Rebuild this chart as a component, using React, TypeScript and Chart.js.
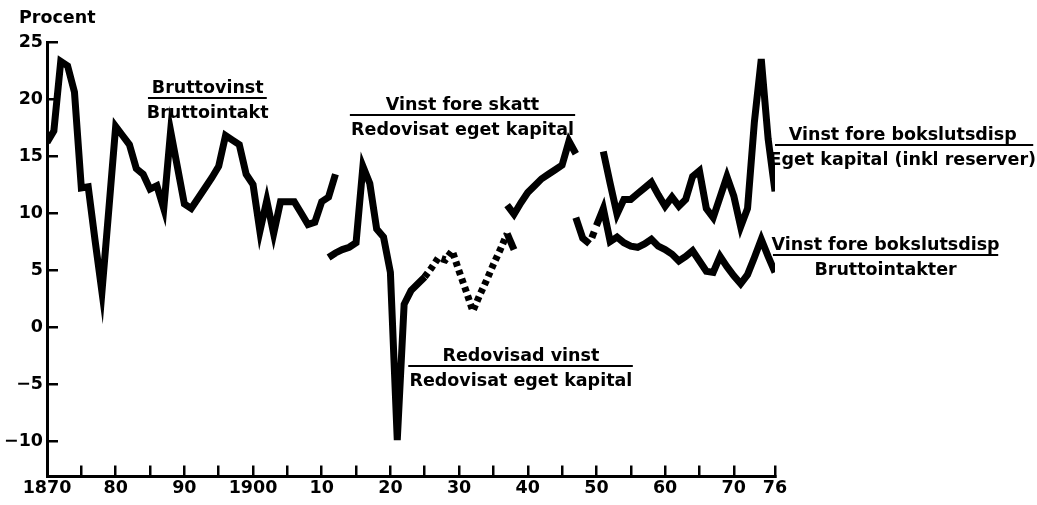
import React, { useEffect, useRef } from 'react';
import { Chart, registerables } from 'chart.js';

Chart.register(...registerables);

// ---------- data ----------
const bruttoYears = [1870, 1871, 1872, 1873, 1874, 1875, 1876, 1877, 1878, 1879, 1880, 1881, 1882, 1883, 1884, 1885, 1886, 1887, 1888, 1889, 1890, 1891, 1892, 1893, 1894, 1895, 1896, 1897, 1898, 1899, 1900, 1901, 1902, 1903, 1904, 1905, 1906, 1907, 1908, 1909, 1910, 1911, 1912];
const bruttoValues = [16.2, 17.2, 23.3, 22.9, 20.6, 12.2, 12.3, 7.6, 3.1, 10.3, 17.6, 16.8, 16.0, 13.9, 13.4, 12.1, 12.4, 10.4, 17.2, 14.0, 10.8, 10.4, 11.3, 12.2, 13.1, 14.1, 16.8, 16.4, 16.0, 13.4, 12.5, 8.4, 11.1, 8.2, 11.0, 11.0, 11.0, 10.0, 9.0, 9.2, 11.0, 11.4, 13.4];

const redovisadYears = [1911, 1912, 1913, 1914, 1915, 1916, 1917, 1918, 1919, 1920, 1921, 1922, 1923, 1924, 1925, 1926, 1927, 1928, 1929, 1930, 1931, 1932, 1933, 1934, 1935, 1936, 1937, 1938];
const redovisadValues = [6.1, 6.5, 6.8, 7.0, 7.4, 14.1, 12.6, 8.6, 7.9, 4.8, -9.9, 2.0, 3.2, 3.8, 4.4, 5.2, 6.1, 5.9, 6.7, 4.9, 3.2, 1.4, 2.8, 4.1, 5.5, 6.8, 8.2, 6.8];
const redovisadDottedFrom = 1925;
const redovisadDottedTo = 1937;

const skattYears = [1937, 1938, 1939, 1940, 1941, 1942, 1943, 1944, 1945, 1946, 1947];
const skattValues = [10.7, 9.9, 10.9, 11.8, 12.4, 13.0, 13.4, 13.8, 14.2, 16.3, 15.2];

const egetYears = [1951, 1952, 1953, 1954, 1955, 1956, 1957, 1958, 1959, 1960, 1961, 1962, 1963, 1964, 1965, 1966, 1967, 1968, 1969, 1970, 1971, 1972, 1973, 1974, 1975, 1976];
const egetValues = [15.4, 12.6, 9.9, 11.2, 11.2, 11.7, 12.2, 12.7, 11.6, 10.6, 11.4, 10.6, 11.2, 13.2, 13.7, 10.4, 9.6, 11.4, 13.2, 11.5, 8.8, 10.4, 18.0, 23.5, 16.5, 11.9];

const intakterYears = [1947, 1948, 1949, 1950, 1951, 1952, 1953, 1954, 1955, 1956, 1957, 1958, 1959, 1960, 1961, 1962, 1963, 1964, 1965, 1966, 1967, 1968, 1969, 1970, 1971, 1972, 1973, 1974, 1975, 1976];
const intakterValues = [9.6, 7.8, 7.3, 8.9, 10.4, 7.5, 7.9, 7.4, 7.1, 7.0, 7.3, 7.7, 7.1, 6.8, 6.4, 5.8, 6.2, 6.7, 5.8, 4.9, 4.8, 6.2, 5.3, 4.5, 3.8, 4.6, 6.1, 7.7, 6.2, 4.8];
const intakterDottedFrom = 1949;

const xTickYears = [1870, 1875, 1880, 1885, 1890, 1895, 1900, 1905, 1910, 1915, 1920, 1925, 1930, 1935, 1940, 1945, 1950, 1955, 1960, 1965, 1970, 1976];
const xLabelYears = [1870, 1880, 1890, 1900, 1910, 1920, 1930, 1940, 1950, 1960, 1970, 1976];
const xLabelTexts = ['1870', '80', '90', '1900', '10', '20', '30', '40', '50', '60', '70', '76'];
const yTickValues = [25, 20, 15, 10, 5, 0, -5, -10];

const unitLabel = 'Procent';

// fraction labels (anchored in data units: centre year, line value, line start/end years)
const fractionNumerators = ['Bruttovinst', 'Vinst fore skatt', 'Redovisad vinst', 'Vinst fore bokslutsdisp', 'Vinst fore bokslutsdisp'];
const fractionDenominators = ['Bruttointakt', 'Redovisat eget kapital', 'Redovisat eget kapital', 'Eget kapital (inkl reserver)', 'Bruttointakter'];
const fractionCenters = [1893.4, 1930.5, 1939.0, 1994.6, 1992.1];
const fractionLineValues = [20.1, 18.6, -3.4, 15.95, 6.3];
const fractionFrom = [1884.7, 1914.1, 1922.6, 1976.0, 1975.7];
const fractionTo = [1902.0, 1946.9, 1955.3, 2013.6, 2008.5];

// ---------- style ----------
const FONT_FAMILY = '"DejaVu Sans", "Liberation Sans", Arial, sans-serif';
const FONT_SIZE = 17.5;
const INK = '#000000';

const toPoints = (xs: number[], ys: number[]) => xs.map((x, i) => ({ x, y: ys[i] }));

const fractionPlugin = {
  id: 'fractionLabels',
  afterDraw(chart: any) {
    const { ctx, chartArea } = chart;
    const xs = chart.scales.x;
    const ys = chart.scales.y;
    ctx.save();
    ctx.fillStyle = INK;
    ctx.strokeStyle = INK;
    ctx.font = `bold ${FONT_SIZE}px ${FONT_FAMILY}`;
    ctx.textBaseline = 'alphabetic';
    ctx.textAlign = 'center';
    fractionNumerators.forEach((num, i) => {
      const cx = xs.getPixelForValue(fractionCenters[i]);
      const ly = Math.round(ys.getPixelForValue(fractionLineValues[i]));
      ctx.lineWidth = 2;
      ctx.beginPath();
      ctx.moveTo(xs.getPixelForValue(fractionFrom[i]), ly);
      ctx.lineTo(xs.getPixelForValue(fractionTo[i]), ly);
      ctx.stroke();
      ctx.fillText(num, cx, ly - 5);
      ctx.fillText(fractionDenominators[i], cx, ly + 20);
    });
    ctx.textAlign = 'left';
    ctx.fillText(unitLabel, chartArea.left - 28, chartArea.top - 19);
    ctx.restore();
  },
};

const tickFont = { family: FONT_FAMILY, size: FONT_SIZE, weight: 'bold' as const };

export default function App() {
  const canvasRef = useRef<HTMLCanvasElement | null>(null);

  useEffect(() => {
    const canvas = canvasRef.current;
    if (!canvas) return;
    const solid = { borderColor: INK, borderWidth: 7, pointRadius: 0, tension: 0, fill: false, borderCapStyle: 'butt' as const, borderJoinStyle: 'miter' as const };
    const chart = new Chart(canvas, {
      type: 'line',
      data: {
        datasets: [
          { ...solid, label: 'Bruttovinst/Bruttointakt', data: toPoints(bruttoYears, bruttoValues) },
          {
            ...solid,
            label: 'Redovisad vinst/Redovisat eget kapital',
            data: toPoints(redovisadYears, redovisadValues),
            segment: {
              borderDash: (ctx: any) =>
                redovisadYears[ctx.p0DataIndex] >= redovisadDottedFrom && redovisadYears[ctx.p1DataIndex] <= redovisadDottedTo ? [5, 4] : undefined,
            },
          },
          { ...solid, label: 'Vinst fore skatt/Redovisat eget kapital', data: toPoints(skattYears, skattValues) },
          { ...solid, label: 'Vinst fore bokslutsdisp/Eget kapital', data: toPoints(egetYears, egetValues) },
          {
            ...solid,
            label: 'Vinst fore bokslutsdisp/Bruttointakter',
            data: toPoints(intakterYears, intakterValues),
            segment: {
              borderDash: (ctx: any) => (intakterYears[ctx.p0DataIndex] === intakterDottedFrom ? [0, 6.5, 6.5, 30] : undefined),
            },
          },
        ],
      },
      options: {
        animation: false,
        responsive: false,
        events: [],
        layout: { padding: { top: 42, right: 262, left: 0, bottom: 0 } },
        plugins: {
          legend: { display: false },
          tooltip: { enabled: false },
          title: { display: false },
        },
        scales: {
          x: {
            type: 'linear',
            position: 'bottom',
            min: 1870,
            max: 1976,
            afterBuildTicks: (scale: any) => {
              scale.ticks = xTickYears.map((v) => ({ value: v }));
            },
            afterFit: (scale: any) => {
              scale.height = 28.5;
            },
            grid: { display: true, drawOnChartArea: false, drawTicks: true, tickLength: -11, color: INK, lineWidth: 2.5 },
            border: { display: true, color: INK, width: 3 },
            ticks: {
              autoSkip: false,
              maxRotation: 0,
              minRotation: 0,
              padding: 12,
              color: INK,
              font: tickFont,
              callback: (value: any) => {
                const idx = xLabelYears.indexOf(Number(value));
                return idx >= 0 ? xLabelTexts[idx] : '';
              },
            },
          },
          y: {
            type: 'linear',
            position: 'left',
            min: -13.1,
            max: 25,
            afterBuildTicks: (scale: any) => {
              scale.ticks = yTickValues.map((v) => ({ value: v }));
            },
            afterFit: (scale: any) => {
              scale.width = 47;
            },
            grid: { display: true, drawOnChartArea: false, drawTicks: true, tickLength: -11, color: INK, lineWidth: 2.5 },
            border: { display: true, color: INK, width: 3 },
            ticks: {
              padding: 15,
              color: INK,
              font: tickFont,
              callback: (value: any) => {
                const n = Number(value);
                return n < 0 ? '\u2212' + Math.abs(n) : String(n);
              },
            },
          },
        },
      } as any,
      plugins: [fractionPlugin],
    });
    return () => chart.destroy();
  }, []);

  return (
    <div style={{ position: 'absolute', left: 0, top: 0, width: 1037, height: 505, background: '#ffffff' }}>
      <canvas ref={canvasRef} width={1037} height={505} style={{ display: 'block' }} />
    </div>
  );
}
